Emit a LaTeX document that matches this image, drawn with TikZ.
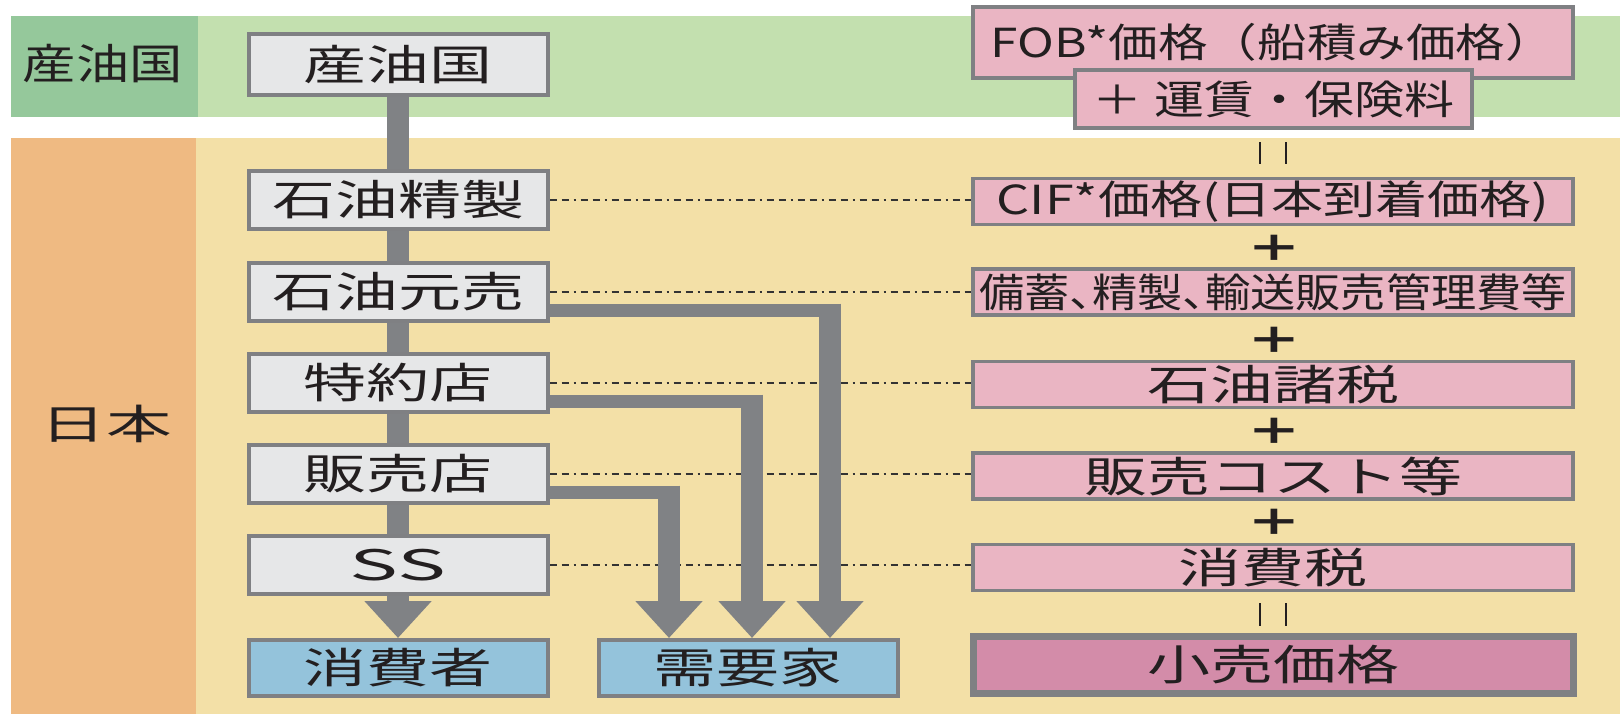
\documentclass[tikz,border=0pt]{standalone}
\usepackage{fontspec}
\usepackage{graphicx}
\newfontfamily\jp{Noto Sans CJK JP}
\usetikzlibrary{arrows.meta,backgrounds}
\definecolor{dgreen}{HTML}{95C89B}
\definecolor{lgreen}{HTML}{C3E0AF}
\definecolor{orng}{HTML}{EFBA82}
\definecolor{lyel}{HTML}{F3E0A7}
\definecolor{boxfill}{HTML}{E6E7E8}
\definecolor{boxline}{HTML}{7F8083}
\definecolor{arrgray}{HTML}{808285}
\definecolor{bluef}{HTML}{94C3DB}
\definecolor{pinkf}{HTML}{EAB5C3}
\definecolor{pinkd}{HTML}{D38CA9}
\definecolor{txt}{HTML}{231F20}
\newcommand\sx[2]{\scalebox{#1}[1]{#2}}
\tikzset{
  base/.style={inner sep=0pt, text=txt, font=\jp\fontsize{21}{21}\selectfont},
  lbox/.style={base, draw=boxline, line width=2pt, fill=boxfill, minimum width=149.5pt, minimum height=29pt},
  ebox/.style={lbox, fill=bluef, minimum height=28pt},
  rbox/.style={base, draw=boxline, line width=1.75pt, fill=pinkf, minimum width=300pt, minimum height=23pt},
  kbox/.style={rbox, fill=pinkd, line width=3.5pt, minimum height=28.5pt},
  plussign/.style={base, font=\jp\bfseries\fontsize{18}{18}\selectfont},
  eqbar/.style={draw=txt, line width=1.3pt},
  dotl/.style={draw=black!80, line width=0.6pt, dash pattern=on 3.5pt off 2.5pt on 3.5pt off 2.5pt on 1pt off 2.5pt},
  hbar/.style={draw=arrgray, line width=6.5pt},
  vbar/.style={draw=arrgray, line width=11pt, -{Triangle[width=32.5pt,length=18.5pt]}},
}
\begin{document}
\begin{tikzpicture}[x=0.5pt,y=-0.5pt]
\useasboundingbox (0,0) rectangle (1620,714);
% side labels
\node[base] (labsanyu) at (103,64) {\sx{1.27}{産油国}};
\node[base, font=\jp\fontsize{20.5}{20.5}\selectfont] (labjapan) at (106.5,424) {\sx{1.6}{日本}};
% left column
\node[lbox, minimum height=30.5pt] (sanyu) at (398,64.5) {\sx{1.5}{産油国}};
\node[lbox] (seisei) at (398,200) {\sx{1.5}{石油精製}};
\node[lbox] (motouri) at (398,292) {\sx{1.5}{石油元売}};
\node[lbox] (tokuyaku) at (398,383) {\sx{1.5}{特約店}};
\node[lbox] (hanbai) at (398,474) {\sx{1.5}{販売店}};
\node[lbox] (ss) at (398,565) {\sx{1.95}{SS}};
\node[ebox] (shohi) at (398,668) {\sx{1.5}{消費者}};
\node[ebox] (juyo) at (748,668) {\sx{1.5}{需要家}};
% right column
\node[rbox, minimum height=35.5pt, line width=2pt, font=\jp\fontsize{20}{20}\selectfont] (fob) at (1273,42.5) {\sx{1.24}{FOB*価格（船積み価格）}};
\node[rbox, minimum width=198.5pt, minimum height=29pt, font=\jp\fontsize{20}{20}\selectfont] (unchin) at (1273.5,99) {\sx{1.25}{＋ 運賃・保険料}};
\node[rbox, font=\jp\fontsize{20}{20}\selectfont] (cif) at (1273,201.5) {\sx{1.3}{CIF*価格(日本到着価格)}};
\node[rbox, font=\jp\fontsize{20}{20}\selectfont] (bichiku) at (1273,292) {\sx{1.13}{\addfontfeature{RawFeature=+halt}備蓄、精製、輸送販売管理費等}};
\node[rbox] (zei) at (1273,384.5) {\sx{1.5}{石油諸税}};
\node[rbox] (cost) at (1273,476) {\sx{1.5}{販売コスト等}};
\node[rbox] (shohizei) at (1273,567.5) {\sx{1.5}{消費税}};
\node[kbox] (kouri) at (1273,665) {\sx{1.5}{小売価格}};
% operators
\node[plussign] (p1) at (1274,248) {\sx{1.55}{＋}};
\node[plussign] (p2) at (1274,340) {\sx{1.55}{＋}};
\node[plussign] (p3) at (1274,431) {\sx{1.55}{＋}};
\node[plussign] (p4) at (1274,522) {\sx{1.55}{＋}};
\draw[eqbar] (1260,142) -- (1260,164);
\draw[eqbar] (1286,142) -- (1286,164);
\draw[eqbar] (1260,603) -- (1260,626);
\draw[eqbar] (1286,603) -- (1286,626);
\begin{scope}[on background layer]
  \fill[lgreen] (11,15.5) rectangle (1620,117);
  \fill[dgreen] (11,15.5) rectangle (198,117);
  \fill[lyel] (11,138) rectangle (1620,714);
  \fill[orng] (11,138) rectangle (196,714);
  % dotted links
  \draw[dotl] (seisei.east) -- (seisei.east -| cif.west);
  \draw[dotl] (motouri.east) -- (motouri.east -| bichiku.west);
  \draw[dotl] (tokuyaku.east) -- (tokuyaku.east -| zei.west);
  \draw[dotl] (hanbai.east) -- (hanbai.east -| cost.west);
  \draw[dotl] (ss.east) -- (ss.east -| shohizei.west);
  % flows
  \coordinate (x1) at (669,0);
  \coordinate (x2) at (752,0);
  \coordinate (x3) at (830,0);
  \draw[vbar] (sanyu.south) -- (shohi.north);
  \draw[hbar] ([yshift=-9pt]motouri.east) -- ([yshift=-9pt,xshift=5.5pt]motouri.east -| x3);
  \draw[vbar] ([yshift=-5.75pt]motouri.east -| x3) -- (juyo.north -| x3);
  \draw[hbar] ([yshift=-9pt]tokuyaku.east) -- ([yshift=-9pt,xshift=5.5pt]tokuyaku.east -| x2);
  \draw[vbar] ([yshift=-5.75pt]tokuyaku.east -| x2) -- (juyo.north -| x2);
  \draw[hbar] ([yshift=-9pt]hanbai.east) -- ([yshift=-9pt,xshift=5.5pt]hanbai.east -| x1);
  \draw[vbar] ([yshift=-5.75pt]hanbai.east -| x1) -- (juyo.north -| x1);
\end{scope}
\end{tikzpicture}
\end{document}
